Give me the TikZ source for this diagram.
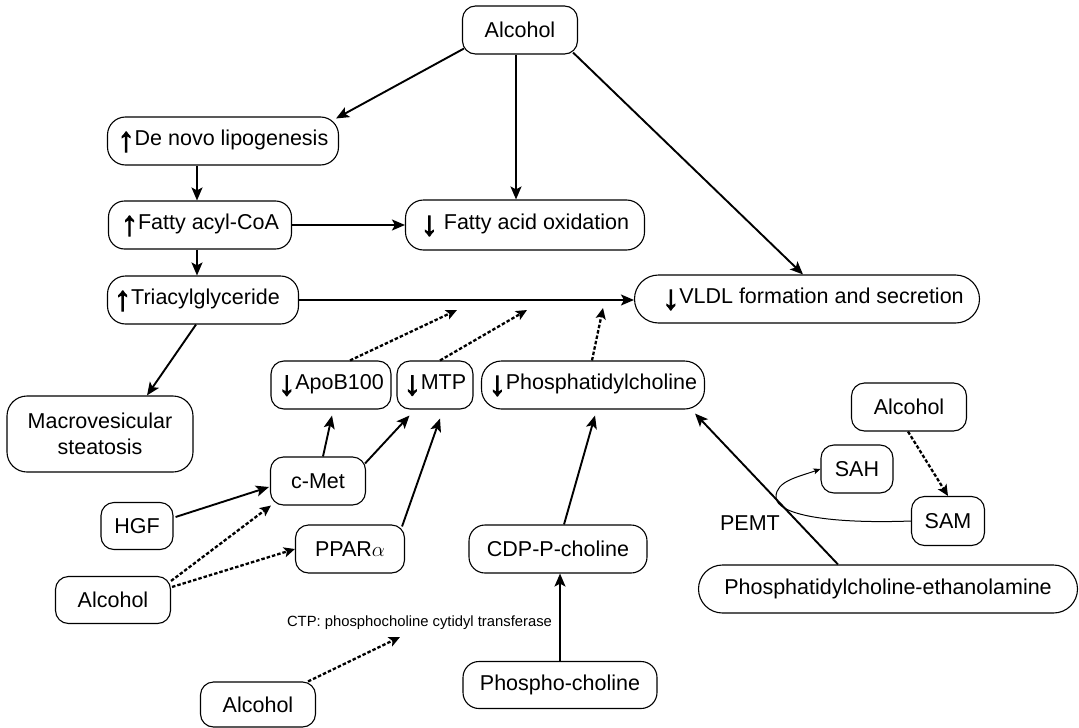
\documentclass[tikz,border=0pt]{standalone}
\usepackage{fontspec}
\setmainfont{Liberation Sans}
\newfontfamily\arrfont[FakeBold=3]{Liberation Sans}
\usetikzlibrary{arrows.meta,calc}
\newcommand{\UA}{\raisebox{-5.5pt}{\fontsize{34pt}{34pt}\arrfont ↑}}
\newcommand{\DA}{\raisebox{-5.5pt}{\fontsize{34pt}{34pt}\arrfont ↓}}
\begin{document}
\begin{tikzpicture}[x=1pt,y=-1pt,
  box/.style={draw, line width=1.1pt, rounded corners=13pt, inner sep=0pt, align=center,
    font=\fontsize{21.5pt}{26pt}\selectfont},
  arr/.style={line width=1.9pt, -{Stealth[length=13pt,width=11pt,inset=3pt]}},
  darr/.style={line width=2.3pt, dash pattern=on 3.5pt off 2pt, -{Stealth[length=11pt,width=10pt,inset=2.5pt]}},
  tarr/.style={line width=1pt, -{Stealth[length=7pt,width=6pt,inset=1.5pt]}},
  lbl/.style={inner sep=0pt, font=\fontsize{21.5pt}{25pt}\selectfont},
  small/.style={inner sep=0pt, font=\fontsize{14.8pt}{17pt}\selectfont}
]
\useasboundingbox (0,0) rectangle (1079,728);

% nodes
\node[box, minimum width=115pt, minimum height=48pt] (alcA) at (520,30) {Alcohol};
\node[box, minimum width=231pt, minimum height=48pt, rounded corners=18pt] (denovo) at (223,141) {\UA De novo lipogenesis};
\node[box, minimum width=183pt, minimum height=48pt, rounded corners=16pt] (fatty) at (200,225) {\UA Fatty acyl-CoA};
\node[box, minimum width=239pt, minimum height=50pt, rounded corners=18pt] (fao) at (525,225) {\DA\ Fatty acid oxidation};
\node[box, minimum width=191pt, minimum height=48pt, rounded corners=18pt] (tri) at (203,300) {\UA Triacylglyceride\hspace{12pt}};
\node[box, minimum width=345pt, minimum height=48pt, rounded corners=24pt] (vldl) at (807,299) {\hspace{12pt}\DA VLDL formation and secretion};
\node[box, minimum width=186pt, minimum height=76pt, rounded corners=20pt] (macro) at (100,434) {Macrovesicular\\steatosis};
\node[box, minimum width=120pt, minimum height=48pt] (apob) at (331,385) {\DA ApoB100};
\node[box, minimum width=76pt, minimum height=48pt] (mtp) at (435,385) {\DA MTP};
\node[box, minimum width=223pt, minimum height=48pt, rounded corners=20pt] (pc) at (593,385) {\DA Phosphatidylcholine};
\node[box, minimum width=95pt, minimum height=48pt] (cmet) at (318,481) {c-Met};
\node[box, minimum width=72pt, minimum height=47pt] (hgf) at (137,526) {HGF};
\node[box, minimum width=109pt, minimum height=48pt] (ppar) at (350,549) {PPAR$\alpha$};
\node[box, minimum width=115pt, minimum height=47pt] (alcB) at (113,600) {Alcohol};
\node[box, minimum width=178pt, minimum height=48pt, rounded corners=16pt] (cdp) at (558,549) {CDP-P-choline};
\node[small] (ctp) at (419.5,623) {CTP: phosphocholine cytidyl transferase};
\node[box, minimum width=115pt, minimum height=45pt] (alcC) at (258,704.5) {Alcohol};
\node[box, minimum width=194pt, minimum height=47pt, rounded corners=16pt] (pch) at (560,685) {Phospho-choline};
\node[box, minimum width=115pt, minimum height=48pt] (alcD) at (909,407) {Alcohol};
\node[box, minimum width=72pt, minimum height=48pt] (sah) at (857,469) {SAH};
\node[box, minimum width=73pt, minimum height=49pt] (sam) at (948,521) {SAM};
\node[lbl] (pemt) at (750,523) {PEMT};
\node[box, minimum width=379pt, minimum height=48pt, rounded corners=24pt] (pce) at (888,589) {Phosphatidylcholine-ethanolamine};

% free ends
\coordinate (tApo) at (457,310);
\coordinate (tMtp) at (527,310);
\coordinate (tPc) at (603,308);
\coordinate (tCtp) at (400,637);

% connectors
\draw[arr] ($(alcA.south west)+(2,-6)$) -- ($(denovo.north east)+(-3,2)$);
\draw[arr] ($(alcA.south)+(-4,0)$) -- ($(alcA.south |- fao.north)+(-4,0)$);
\draw[arr] ($(alcA.south east)+(-5,-2)$) -- ($(vldl.north)+(-4,0)$);
\draw[arr] ($(fatty.north |- denovo.south)+(-3,0)$) -- ($(fatty.north)+(-3,0)$);
\draw[arr] (fatty.east) -- (fatty.east -| fao.west);
\draw[arr] ($(fatty.south)+(-3,0)$) -- ($(fatty.south |- tri.north)+(-3,0)$);
\draw[arr] (tri.east) -- (tri.east -| vldl.west);
\draw[arr] ($(tri.south)+(-7,0)$) -- ($(macro.north)+(47,0)$);
\draw[darr] ($(apob.north)+(19,0)$) -- (tApo);
\draw[darr] ($(mtp.north)+(5,0)$) -- (tMtp);
\draw[darr] ($(pc.north)+(-1,0)$) -- (tPc);
\draw[arr] ($(cmet.north)+(5,0)$) -- ($(apob.south)+(1,6)$);
\draw[arr] ($(cmet.north east)+(-1,7)$) -- ($(mtp.south west)+(13,6)$);
\draw[arr] ($(ppar.north east)+(-3,2)$) -- ($(mtp.south)+(5,9)$);
\draw[arr] ($(hgf.east)+(2,-9)$) -- ($(cmet.west)+(-1,6)$);
\draw[darr] ($(alcB.north east)+(0,5)$) -- ($(cmet.south west)+(1,0)$);
\draw[darr] ($(alcB.north east)+(1,11)$) -- (ppar.west);
\draw[darr] ($(alcC.north east)+(-8,0)$) -- (tCtp);
\draw[arr] (pch.north) -- (pch.north |- cdp.south);
\draw[arr] ($(cdp.north)+(6,0)$) -- ($(pc.south)+(2,6)$);
\draw[arr] ($(pce.north)+(-50,0)$) -- ($(pc.south east)+(-10,4)$);
\draw[darr] ($(alcD.south)+(-1,0)$) -- (sam.north);
\draw[tarr] (sam.west) .. controls (830,524) and (776,515) .. (776,497)
  .. controls (776,481) and (798,477) .. (sah.west);
\end{tikzpicture}
\end{document}
